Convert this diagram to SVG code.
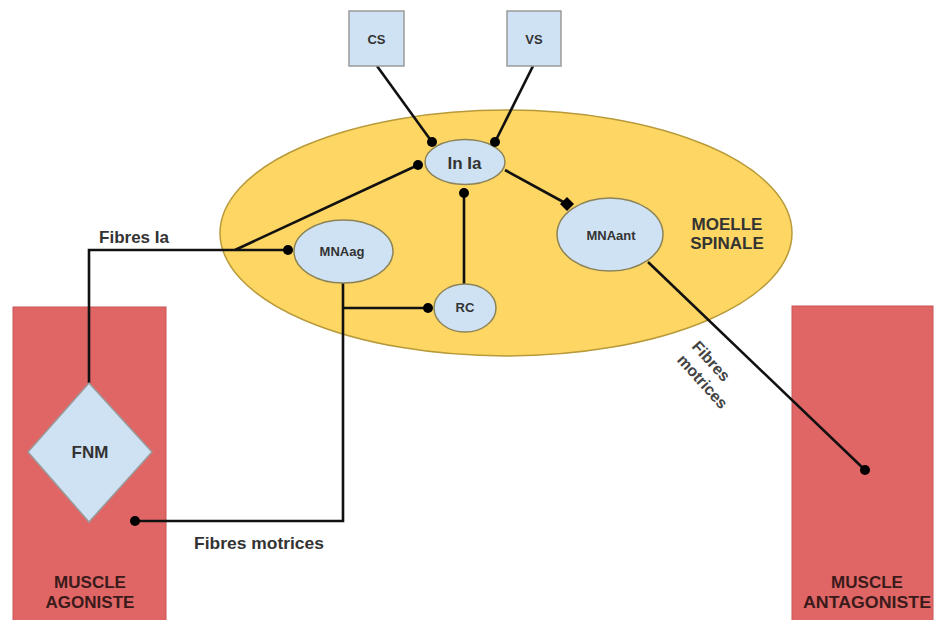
<svg xmlns="http://www.w3.org/2000/svg" width="936" height="620" viewBox="0 0 936 620">
  <style>
    .lbl { font-family: "Liberation Sans", Arial, sans-serif; font-weight: bold; text-anchor: middle; fill: #333333; }
    .lbl-start { font-family: "Liberation Sans", Arial, sans-serif; font-weight: bold; text-anchor: start; fill: #444444; }
    .muscle { fill: #E06666; stroke: #c95555; stroke-width: 1; }
    .musclelbl { font-family: "Liberation Sans", Arial, sans-serif; font-weight: bold; text-anchor: middle; fill: #3a1a1a; font-size: 17px; }
    .cell { fill: #CFE2F3; stroke: #8c8458; stroke-width: 1.5; }
    .box { fill: #CFE2F3; stroke: #9a9a9a; stroke-width: 1.5; }
    .wire { fill: none; stroke: #111111; stroke-width: 2.6; stroke-linejoin: miter; }
    .dot { fill: #000000; }
  </style>

  <!-- muscles -->
  <g id="muscle-agoniste">
    <rect class="muscle" x="13" y="307" width="153" height="320"/>
    <text class="musclelbl" x="90" y="588">MUSCLE</text>
    <text class="musclelbl" x="90" y="608">AGONISTE</text>
  </g>
  <g id="muscle-antagoniste">
    <rect class="muscle" x="792" y="306" width="141" height="320"/>
    <text class="musclelbl" x="867" y="588">MUSCLE</text>
    <text class="musclelbl" x="867" y="608" textLength="128" lengthAdjust="spacingAndGlyphs">ANTAGONISTE</text>
  </g>

  <!-- spinal cord -->
  <g id="moelle-spinale">
    <ellipse cx="506" cy="233" rx="286" ry="123" fill="#FDD663" stroke="#b89a3a" stroke-width="1.5"/>
    <text class="lbl" x="727" y="230" font-size="17" fill="#3a3218">MOELLE</text>
    <text class="lbl" x="727" y="249" font-size="17" fill="#3a3218">SPINALE</text>
  </g>

  <!-- connectors -->
  <g id="connectors">
    <line class="wire" x1="377" y1="66" x2="432" y2="142"/>
    <line class="wire" x1="533" y1="66" x2="495" y2="142"/>
    <polyline class="wire" points="89,383 89,250 288,250"/>
    <line class="wire" x1="235" y1="250" x2="418" y2="165"/>
    <polyline class="wire" points="343,283 343,521 135,521"/>
    <line class="wire" x1="343" y1="308" x2="428" y2="308"/>
    <line class="wire" x1="464" y1="284" x2="464" y2="193"/>
    <line class="wire" x1="505" y1="170" x2="567" y2="204"/>
    <line class="wire" x1="648" y1="262" x2="865" y2="470"/>
  </g>

  <!-- nodes -->
  <g id="cs">
    <rect class="box" x="349" y="11" width="55" height="55"/>
    <text class="lbl" x="376.5" y="44" font-size="13">CS</text>
  </g>
  <g id="vs">
    <rect class="box" x="507" y="11" width="54" height="55"/>
    <text class="lbl" x="534" y="44" font-size="13">VS</text>
  </g>
  <g id="in-ia">
    <ellipse class="cell" cx="465" cy="162" rx="40" ry="22.5"/>
    <text class="lbl" x="464.5" y="169" font-size="17">In Ia</text>
  </g>
  <g id="mnaag">
    <ellipse class="cell" cx="343.5" cy="251.5" rx="49.5" ry="31.5"/>
    <text class="lbl" x="342" y="256" font-size="13">MNAag</text>
  </g>
  <g id="rc">
    <ellipse class="cell" cx="465" cy="308" rx="31" ry="24"/>
    <text class="lbl" x="465" y="312" font-size="13">RC</text>
  </g>
  <g id="mnaant">
    <ellipse class="cell" cx="610" cy="234.5" rx="53" ry="36.5"/>
    <text class="lbl" x="611" y="240" font-size="13">MNAant</text>
  </g>
  <g id="fnm">
    <polygon class="box" points="89,383 152,452 89,522 28,452"/>
    <text class="lbl" x="90" y="458" font-size="17">FNM</text>
  </g>

  <!-- synapse endings -->
  <g id="endings">
    <circle class="dot" cx="432" cy="142" r="5"/>
    <circle class="dot" cx="495" cy="142" r="5"/>
    <circle class="dot" cx="418" cy="165" r="5"/>
    <circle class="dot" cx="288" cy="250" r="5"/>
    <circle class="dot" cx="428" cy="308" r="5"/>
    <circle class="dot" cx="464" cy="193" r="5"/>
    <polygon class="dot" points="567,197 574,204 567,211 560,204"/>
    <circle class="dot" cx="865" cy="470" r="5"/>
    <circle class="dot" cx="135" cy="521" r="5"/>
  </g>

  <!-- fibre labels -->
  <g id="labels">
    <text class="lbl" x="134" y="243" font-size="17">Fibres Ia</text>
    <text class="lbl" x="259" y="549" font-size="17" textLength="130" lengthAdjust="spacingAndGlyphs">Fibres motrices</text>
    <text class="lbl-start" font-size="16" transform="translate(691,347) rotate(48)">
      <tspan x="0" y="0">Fibres</tspan>
      <tspan x="0" y="20">motrices</tspan>
    </text>
  </g>
</svg>
